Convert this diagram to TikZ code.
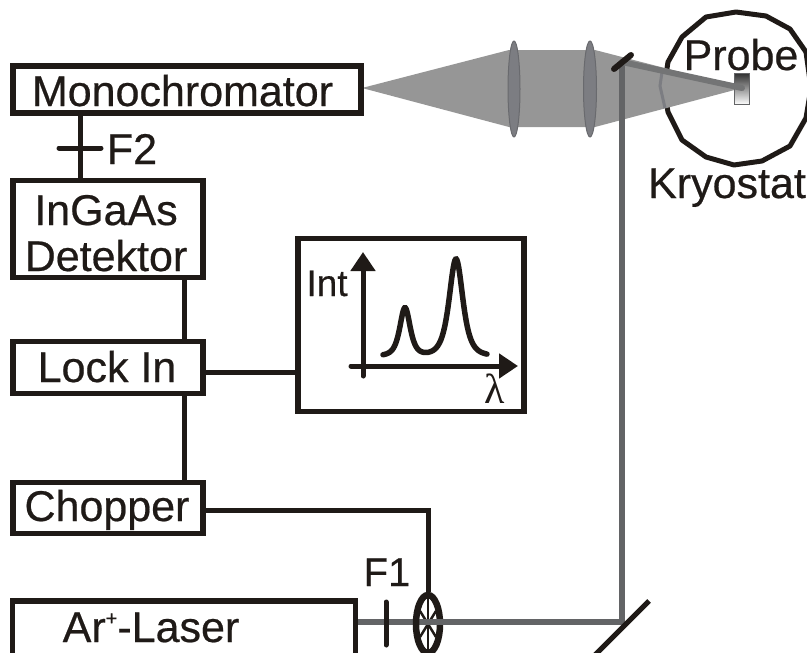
\documentclass[tikz,border=0pt]{standalone}
\usepackage{fontspec}
\setmainfont[FakeBold=0.5]{Liberation Sans}
\newfontfamily\lamfont{Liberation Serif}
\usetikzlibrary{arrows.meta,shapes.geometric}
\definecolor{ink}{HTML}{1F1A17}
\definecolor{conegray}{HTML}{969696}
\definecolor{lensgray}{HTML}{7C7D82}
\definecolor{beamgray}{HTML}{636466}
\tikzset{
  x=1pt,y=-1pt,
  box/.style={draw=ink,line width=5.5pt,fill=white,inner sep=0pt},
  lbl/.style={font=\fontsize{43}{47}\selectfont,text=ink,inner sep=0pt,anchor=base},
  wire/.style={draw=ink,line width=5pt},
  beam/.style={draw=beamgray,line width=6pt},
  lens/.style={ellipse,draw=lensgray!85!black,line width=1pt,fill=lensgray,inner sep=0pt},
  axisline/.style={draw=ink,line width=5pt,line cap=round,-{Triangle[length=19pt,width=24pt]}},
}
\begin{document}
\begin{tikzpicture}
\useasboundingbox (0,0) rectangle (807,653);
\clip (0,0) rectangle (807,653);
% cryostat
\draw[ink,line width=5pt,line join=round] (736,12) -- (766,16) -- (790,29) -- (806,52) -- (811,88) -- (806,118) -- (790,146) -- (762,161) -- (734,165) -- (706,157) -- (682,140) -- (668,112) -- (664,88) -- (668,62) -- (682,37) -- (706,17) -- cycle;
% light cone
\fill[conegray] (362,88) -- (509,50) -- (595,50) -- (742,88) -- (595,127) -- (509,127) -- cycle;
\draw[lensgray,line width=3pt] (662,72) -- (660,86) -- (665,108);
% lenses
\node[lens,minimum width=12pt,minimum height=96pt] (lensA) at (514,89) {};
\node[lens,minimum width=13pt,minimum height=96pt] (lensB) at (590,89) {};
% sample
\node[draw=beamgray,line width=1pt,top color=black!80,bottom color=white,minimum width=15pt,minimum height=31pt,inner sep=0pt] (sample) at (742,89) {};
% coordinates of the beam
\coordinate (mirrorB) at (622,622);
\coordinate (mirrorT) at (622,62);
\coordinate (spot) at (742,88);
\coordinate (laserOut) at (355,622);
\draw[beam] (laserOut) -- (mirrorB) -- (mirrorT);
\draw[draw=beamgray!90,line width=6pt,line cap=round] (mirrorT) -- (spot);
% mirrors
\draw[ink,line width=6pt,line cap=round] (614,69) -- (631,55);
\draw[ink,line width=5pt] (592,658) -- (649,601);
% boxes
\node[box,minimum width=348pt,minimum height=47pt] (mono) at (187,89.5) {};
\node[lbl] at (182.5,106) {Monochromator};
\node[box,minimum width=190pt,minimum height=97pt] (det) at (108,229) {};
\node[lbl] at (106,225) {InGaAs};
\node[lbl] at (106,271) {Detektor};
\node[box,minimum width=190pt,minimum height=52pt] (lock) at (108,367.5) {};
\node[lbl] at (107,382) {Lock In};
\node[box,minimum width=190pt,minimum height=51pt] (chop) at (108,508) {};
\node[lbl] at (107,521) {Chopper};
\node[box,minimum width=343pt,minimum height=60pt] (laser) at (184,631) {};
\node[lbl] at (151,642) {Ar\raisebox{17pt}{\fontsize{20}{20}\selectfont +}-Laser};
\node[box,minimum width=226pt,minimum height=173pt] (plotbox) at (411,325) {};
% connectors
\coordinate (fTop) at (80,113);
\draw[wire] (mono.south -| fTop) -- (det.north -| fTop);
\draw[wire,line cap=round] (59,148) -- (101,148);
\node[lbl] at (132,164) {F2};
\coordinate (dn) at (184,300);
\draw[wire] (det.south -| dn) -- (lock.north -| dn);
\draw[wire] (lock.south -| dn) -- (chop.north -| dn);
\draw[wire] (lock.east |- 0,372) -- (plotbox.west |- 0,372);
% chopper wheel and F1
\node[draw=ink,line width=6.5pt,ellipse,minimum width=24pt,minimum height=58pt,inner sep=0pt] (wheel) at (428,624) {};
\draw[ink,line width=2.5pt] (wheel.north) -- (wheel.south);
\draw[ink,line width=2.5pt] (420,611) -- (436,637) (436,611) -- (420,637);
\draw[wire] (chop.east |- 0,510) -- (428,510) -- (wheel.north);
\draw[draw=beamgray,line width=6pt] (420,622) -- (445,622);
\draw[ink,line width=5pt,line cap=round] (386,602) -- (386,645);
\node[lbl,font=\fontsize{40}{44}\selectfont] at (387,586) {F1};
% plot
\draw[axisline] (363,376) -- (363,252);
\draw[axisline] (351,366) -- (518,366);
\draw[ink,line width=5.5pt,line cap=round,smooth,samples=150,domain=383:487,variable=\t]
  plot (\t,{356-48*(1/(1+((\t-405)/9.5)^2))^2-97*(1/(1+((\t-456)/12.5)^2))^2});
\node[lbl,font=\fontsize{37}{40}\selectfont] at (327,296) {Int};
\node[lbl,font=\fontsize{42}{44}\selectfont\lamfont] at (495,403) {λ};
% probe labels
\node[lbl] at (741,70) {Probe};
\node[lbl] at (727,198) {Kryostat};
\end{tikzpicture}
\end{document}
